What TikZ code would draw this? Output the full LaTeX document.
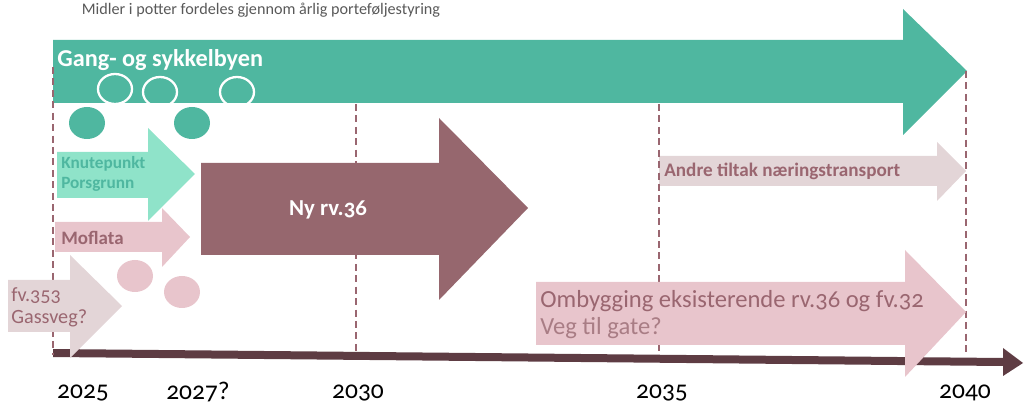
\documentclass[tikz,border=0pt]{standalone}
\usepackage{fontspec}
\setmainfont{Carlito}[Numbers=OldStyle]
\definecolor{gsgreen}{HTML}{4FB7A0}
\definecolor{mint}{HTML}{8FE3C9}
\definecolor{rvmaroon}{HTML}{96676E}
\definecolor{rosa}{HTML}{E8C5CC}
\definecolor{greyrosa}{HTML}{E3D5D7}
\definecolor{axisbrown}{HTML}{5E3C43}
\definecolor{dashmaroon}{HTML}{9A6670}
\definecolor{titlegrey}{HTML}{595959}
\tikzset{
  lbl/.style={anchor=west, inner sep=0pt, align=left},
  year/.style={inner sep=0pt, font=\fontsize{14.5}{15}\selectfont, text=black},
  yearline/.style={dashmaroon, line width=1.1pt, dash pattern=on 4pt off 2.5pt},
}
\begin{document}
\begin{tikzpicture}[x=0.02cm, y=-0.02cm]
    \useasboundingbox (0,0) rectangle (1025,405);
    % timeline axis
    \fill[axisbrown] (53,349) -- (1003,358) -- (1003,348) -- (1023,363) -- (1003,376) -- (1003,366) -- (53,357) -- cycle;
    % Gang- og sykkelbyen
    \fill[gsgreen] (53,40) -- (903,40) -- (903,9) -- (967,71) -- (903,135) -- (903,103) -- (53,103) -- cycle;
    \node[lbl, text=white, font=\fontsize{13.8}{15}\bfseries\selectfont] (gang) at (57,60) {Gang- og sykkelbyen};
    \draw[white, line width=1.3pt] (115,89) ellipse (17 and 15);
    \draw[white, line width=1.3pt] (160,92) ellipse (17 and 15);
    \draw[white, line width=1.3pt] (237,92) ellipse (17 and 15);
    \fill[gsgreen] (87,123) ellipse (18 and 16);
    \fill[gsgreen] (192,123) ellipse (18 and 16);
    % Knutepunkt Porsgrunn
    \fill[mint] (57,152) -- (148,152) -- (148,128) -- (195,174) -- (148,221) -- (148,198) -- (57,198) -- cycle;
    \node[lbl, text=gsgreen, font=\fontsize{9.8}{11}\bfseries\selectfont] (knute) at (61,174) {Knutepunkt\\Porsgrunn};
    % Moflata
    \fill[rosa] (55,222) -- (162,222) -- (162,208) -- (190,237) -- (162,267) -- (162,252) -- (55,252) -- cycle;
    \node[lbl, text=dashmaroon, font=\fontsize{10.8}{12}\bfseries\selectfont] (mof) at (61,238) {Moflata};
    \fill[rosa] (135,276) ellipse (18 and 16);
    \fill[rosa] (182,292) ellipse (18 and 16);
    % Andre tiltak
    \fill[greyrosa] (659,156) -- (937,156) -- (937,142) -- (966,171) -- (937,201) -- (937,186) -- (659,186) -- cycle;
    \node[lbl, text=dashmaroon, font=\fontsize{10.9}{12}\bfseries\selectfont] (andre) at (664,171) {Andre tiltak næringstransport};
    % year lines
    \draw[yearline] (53,67) -- (53,355);
    \draw[yearline] (356,104) -- (356,355);
    \draw[yearline] (659,104) -- (659,355);
    \draw[yearline] (966,71) -- (966,355);
    % Ombygging
    \fill[rosa] (536,282) -- (905,282) -- (905,250) -- (966,312) -- (905,377) -- (905,345) -- (536,345) -- cycle;
    \node[lbl, text=dashmaroon, font=\fontsize{14}{15}\selectfont] (omb) at (540,301) {Ombygging eksisterende rv.36 og fv.32};
    \node[lbl, text=dashmaroon!85, font=\fontsize{14}{15}\selectfont] (veg) at (540,328) {Veg til gate?};
    % fv.353
    \fill[greyrosa] (8,280) -- (70,280) -- (70,255) -- (122,306) -- (70,358) -- (70,332) -- (8,332) -- cycle;
    \node[lbl, text=dashmaroon, font=\fontsize{11.5}{12.5}\selectfont] (fv) at (11,307) {fv.353\\Gassveg?};
    % Ny rv.36
    \fill[rvmaroon] (201,163) -- (439,163) -- (439,118) -- (528,208) -- (439,300) -- (439,255) -- (201,255) -- cycle;
    \node[inner sep=0pt, text=white, font=\fontsize{13}{14}\bfseries\selectfont] (nyrv) at (328,210) {Ny rv.36};
    % top note and years
    \node[inner sep=0pt, text=titlegrey, font=\fontsize{9.2}{10}\selectfont] (note) at (261,10) {Midler i potter fordeles gjennom årlig porteføljestyring};
    \node[year] (y25) at (83,393) {2025};
    \node[year] (y27) at (198,392) {2027?};
    \node[year] (y30) at (358,393) {2030};
    \node[year] (y35) at (662,393) {2035};
    \node[year] (y40) at (965,393) {2040};
\end{tikzpicture}
\end{document}
